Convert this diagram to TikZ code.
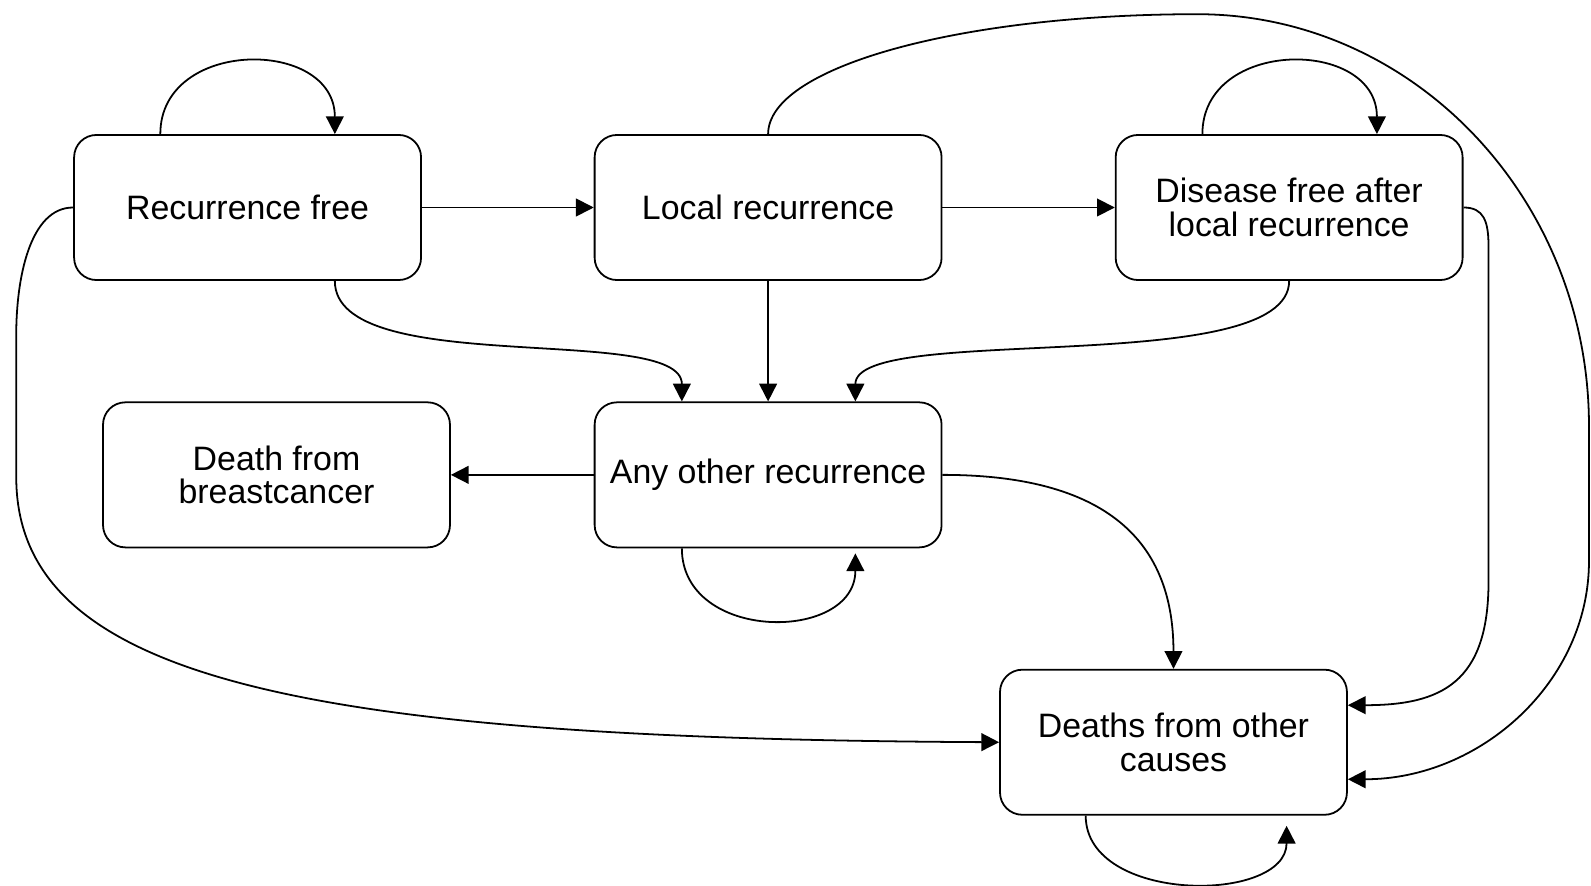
\documentclass[tikz,border=0pt]{standalone}
\usepackage{fontspec}
\setmainfont{Liberation Sans}
\usetikzlibrary{arrows.meta,calc}
\begin{document}
\begin{tikzpicture}[x=0.02cm,y=0.02cm,
  state/.style={draw, line width=1pt, rounded corners=0.44cm,
    minimum width=6.84cm, minimum height=2.86cm, inner sep=0pt,
    align=center, font=\fontsize{19}{19}\selectfont},
  edge/.style={line width=1pt, -{Triangle[length=0.35cm,width=0.35cm]}}]
\useasboundingbox (0,0) rectangle (1568,873);

% states
\node[state] (rf)  at (244,668.5)   {Recurrence free};
\node[state] (lr)  at (757,668.5)   {Local recurrence};
\node[state] (df)  at (1270.5,668.5){Disease free after\\local recurrence};
\node[state] (dbc) at (272.5,405)   {Death from\\breastcancer};
\node[state] (aor) at (757,405)     {Any other recurrence};
\node[state] (doc) at (1156.5,141.5){Deaths from other\\causes};

% self-loops
\draw[edge] ($(rf.north)+(-86,0)$) .. controls +(0,95) and +(0,95) .. ($(rf.north)+(86,0)$);
\draw[edge] ($(df.north)+(-85.5,0)$) .. controls +(0,95) and +(0,95) .. ($(df.north)+(86.5,0)$);
\draw[edge, shorten >=0.1cm] ($(aor.south)+(-85,0)$) .. controls +(0,-93) and +(0,-93) .. ($(aor.south)+(86,0)$);
\draw[edge, shorten >=0.2cm] ($(doc.south)+(-86.5,0)$) .. controls +(0,-87) and +(0,-87) .. ($(doc.south)+(111.5,0)$);

% straight transitions
\draw[edge] (rf.east) -- (lr.west);
\draw[edge] (lr.east) -- (df.west);
\draw[edge] (lr.south) -- (aor.north);
\draw[edge] (aor.west) -- (dbc.east);

% curved transitions into any other recurrence
\draw[edge] ($(rf.south)+(86,0)$) .. controls +(0,-97) and +(0,78) .. ($(aor.north)+(-85,0)$);
\draw[edge] (df.south) .. controls +(0,-97) and +(0,78) .. ($(aor.north)+(86,0)$);

% transitions into deaths from other causes
\draw[edge] (aor.east) .. controls +(172,0) and +(0,117) .. (doc.north);
\draw[edge] (df.east) .. controls +(20,0) and +(0,25) .. (1467,630)
  -- (1467,300) .. controls +(0,-100) and +(92,0) .. ($(doc.east)+(0,36.5)$);
\draw[edge] (lr.north) .. controls +(0,66) and (946,859) .. (1180,859)
  .. controls (1393,859) and (1566,677) .. (1566,453) -- (1566,320)
  .. controls (1566,201) and (1459,105) .. ($(doc.east)+(0,-36.5)$);
\draw[edge] (rf.west) .. controls +(-43,0) and +(0,55) .. (16,543)
  -- (16,403) .. controls +(0,-200) and (300,145) .. (doc.west);
\end{tikzpicture}
\end{document}
